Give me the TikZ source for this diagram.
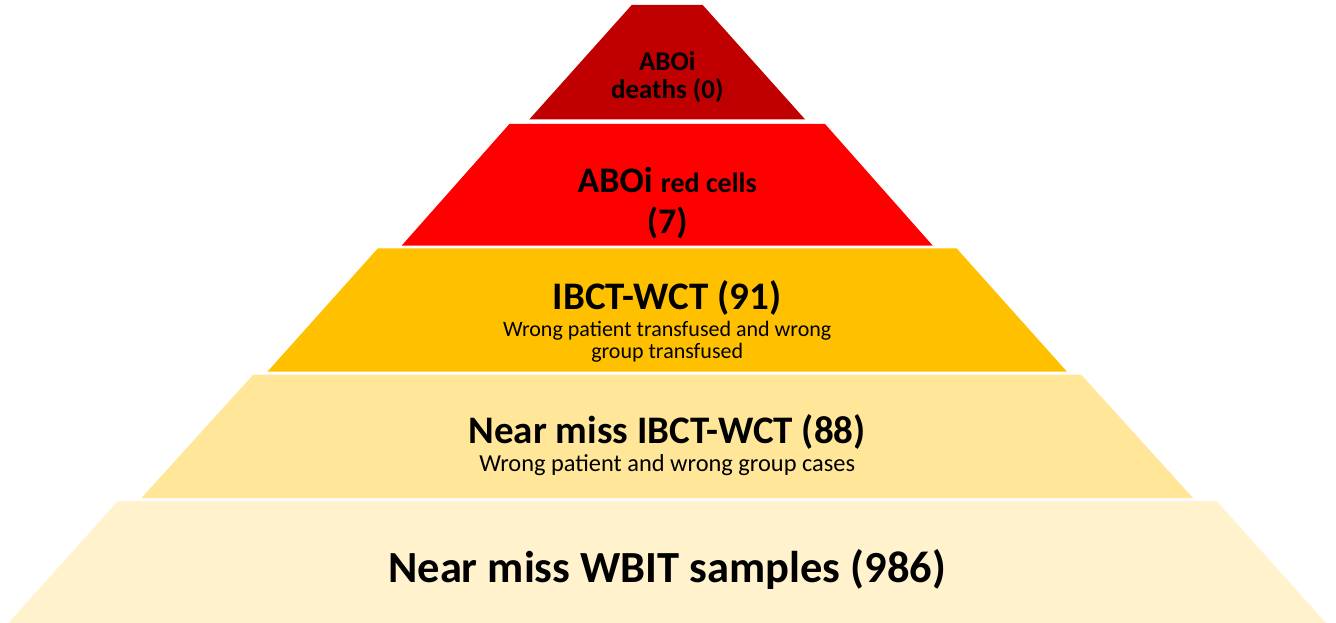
\documentclass[tikz,border=0pt]{standalone}
\usepackage{fontspec}
\setmainfont{Carlito}
\definecolor{layA}{HTML}{C00000}
\definecolor{layB}{HTML}{FF0000}
\definecolor{layC}{HTML}{FFC000}
\definecolor{layD}{HTML}{FFE699}
\definecolor{layE}{HTML}{FFF2CC}
\tikzset{
  lbl/.style={anchor=base, inner sep=0pt, text=black},
}
\newcommand{\fsz}[1]{\fontsize{#1}{#1}\selectfont}
\begin{document}
\begin{tikzpicture}[x=1pt,y=-1pt]
\useasboundingbox (0,0) rectangle (1336,623);
% layers
\fill[layA] (631.7,5) -- (702.7,5) -- (805,119.3) -- (529.4,119.3) -- cycle;
\fill[layB] (509.4,124) -- (825,124) -- (932.8,245.7) -- (401.6,245.7) -- cycle;
\fill[layC] (377.9,248.3) -- (956.5,248.3) -- (1067,371.7) -- (267.4,371.7) -- cycle;
\fill[layD] (253.2,374.7) -- (1081.2,374.7) -- (1193,498) -- (141.4,498) -- cycle;
\fill[layE] (118,500.8) -- (1216.4,500.8) -- (1326,623) -- (8.4,623) -- cycle;
% texts
\node[lbl, font=\bfseries\fsz{27}] (t1a) at (667.2,71) {ABOi};
\node[lbl, font=\bfseries\fsz{27}] (t1b) at (667.2,99) {deaths (0)};
\node[lbl, font=\bfseries\fsz{36}] (t2a) at (667.2,193) {ABOi {\fsz{28}red cells}};
\node[lbl, font=\bfseries\fsz{36}] (t2b) at (667.2,233) {(7)};
\node[lbl, font=\bfseries\fsz{39}] (t3a) at (667.2,309) {IBCT-WCT (91)};
\node[lbl, font=\fsz{22}] (t3b) at (667.2,336) {Wrong patient transfused and wrong};
\node[lbl, font=\fsz{22}] (t3c) at (667.2,358) {group transfused};
\node[lbl, font=\bfseries\fsz{39}] (t4a) at (667.2,443) {Near miss IBCT-WCT (88)};
\node[lbl, font=\fsz{24.4}] (t4b) at (667.2,471) {Wrong patient and wrong group cases};
\node[lbl, font=\bfseries\fsz{44.5}] (t5) at (667.2,582) {Near miss WBIT samples (986)};
\end{tikzpicture}
\end{document}
